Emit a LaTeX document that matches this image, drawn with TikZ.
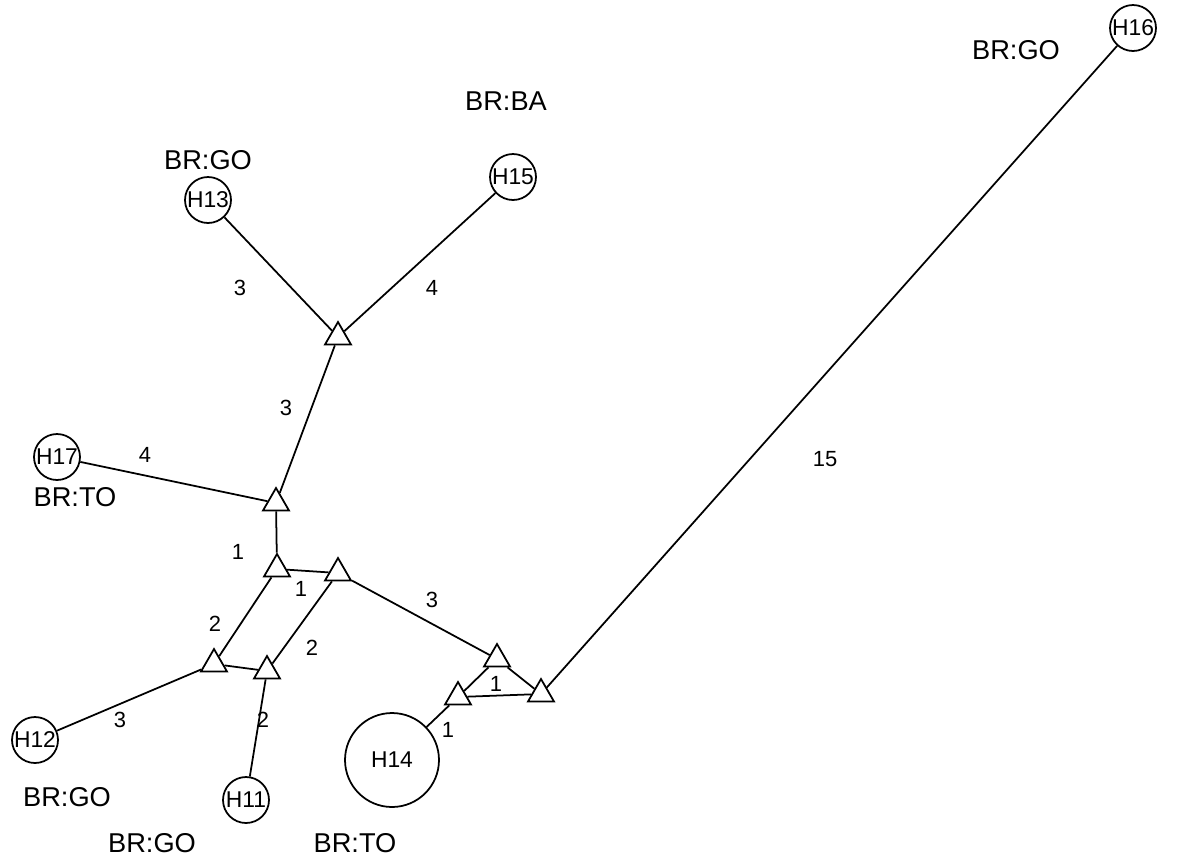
\documentclass[tikz,border=0pt]{standalone}
\usepackage{fontspec}
\setmainfont{Liberation Sans}
\usetikzlibrary{shapes.geometric}
\begin{document}
\begin{tikzpicture}[x=0.02cm,y=-0.02cm,line width=1pt,
    hap/.style={circle,draw,inner sep=0pt,minimum size=0.92cm,font=\fontsize{13}{14}\selectfont},
    med/.style={regular polygon,regular polygon sides=3,draw,inner sep=0pt,minimum size=0.6cm},
    wt/.style={inner sep=1pt,font=\fontsize{12.5}{14}\selectfont},
    grp/.style={inner sep=1pt,font=\fontsize{15.5}{17}\selectfont}]
            \useasboundingbox (0,0) rectangle (1197,860);

            \node[hap] (h16) at (1133,28) {H16};
            \node[hap] (h15) at (513,177) {H15};
            \node[hap] (h13) at (208,200) {H13};
            \node[hap] (h17) at (57,457) {H17};
            \node[hap] (h12) at (35,740) {H12};
            \node[hap] (h11) at (246,800) {H11};
            \node[hap,minimum size=1.88cm] (h14) at (392,760) {H14};

            \node[med] (t1) at (338,337) {};
            \node[med] (t2) at (276,503) {};
            \node[med] (t3) at (277,569) {};
            \node[med] (t4) at (338,573) {};
            \node[med] (t5) at (214,664) {};
            \node[med] (t6) at (267,671) {};
            \node[med] (t7) at (497,659) {};
            \node[med] (t8) at (458,697) {};
            \node[med] (t9) at (541,694) {};

            \draw (h13) -- (t1);
            \draw (h15) -- (t1);
            \draw (t1) -- (t2);
            \draw (h17) -- (t2);
            \draw (t2) -- (t3);
            \draw (t3) -- (t4);
            \draw (t3) -- (t5);
            \draw (t4) -- (t6);
            \draw (t5) -- (t6);
            \draw (t5) -- (h12);
            \draw (t6) -- (h11);
            \draw (t4) -- (t7);
            \draw (t7) -- (t8);
            \draw (t7) -- (t9);
            \draw (t8) -- (t9);
            \draw (t8) -- (h14);
            \draw (t9) -- (h16);

            % branch lengths
            \node[wt] (w1) at (240,288) {3};
            \node[wt] (w2) at (432,288) {4};
            \node[wt] (w3) at (286,408) {3};
            \node[wt] (w4) at (145,455) {4};
            \node[wt] (w5) at (238,552) {1};
            \node[wt] (w6) at (301,589) {1};
            \node[wt] (w7) at (215,624) {2};
            \node[wt] (w8) at (312,648) {2};
            \node[wt] (w9) at (432,600) {3};
            \node[wt] (w10) at (120,720) {3};
            \node[wt] (w11) at (263,720) {2};
            \node[wt] (w12) at (496,684) {1};
            \node[wt] (w13) at (448,730) {1};
            \node[wt] (w14) at (825,459) {15};

            % groups
            \node[grp] (g1) at (1016,50) {BR:GO};
            \node[grp] (g2) at (506,101) {BR:BA};
            \node[grp] (g3) at (208,160) {BR:GO};
            \node[grp] (g4) at (75,497) {BR:TO};
            \node[grp] (g5) at (67,797) {BR:GO};
            \node[grp] (g6) at (152,843) {BR:GO};
            \node[grp] (g7) at (355,843) {BR:TO};
        \end{tikzpicture}
\end{document}
